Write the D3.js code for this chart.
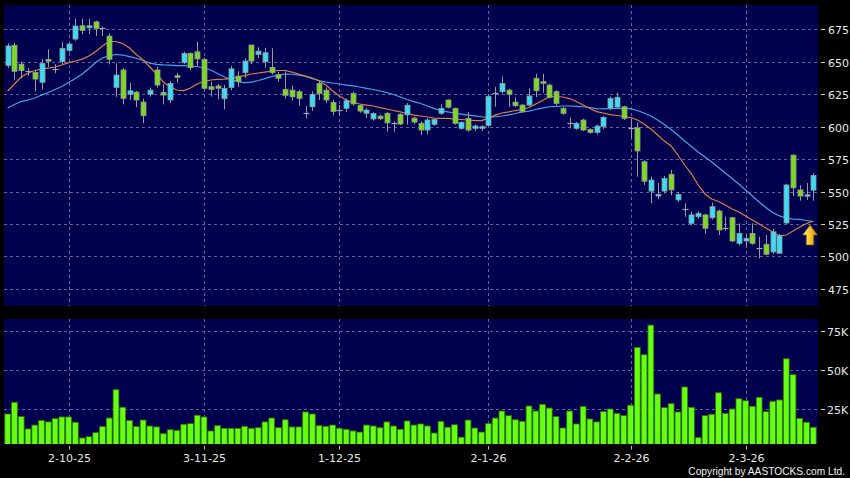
<!DOCTYPE html>
<html><head><meta charset="utf-8">
<script src="https://cdn.jsdelivr.net/npm/d3@7"></script>
<style>html,body{margin:0;padding:0;background:#000;}svg{display:block;}</style>
</head><body>
<svg id="chart" width="850" height="478"></svg>
<script>
// ---------- DATA ----------
const opens  = [647,662.5,648,642.5,641.5,634,651.7,644.5,650,658.5,667.3,677.5,676,680.5,676,669.6,630.1,643.5,624.8,626.5,618.8,624.8,643.5,626.3,620.4,639.1,649.1,656.3,657.5,651.7,630.6,631.2,621.4,630.1,638.8,641.4,662.7,655.5,649.8,645.5,639.9,628.6,628,626.8,610.2,615.2,633.2,628,618.5,612.7,614,625.5,616.2,610.2,605.8,608,610.2,603,609.4,609,606.5,602.5,597.3,601.7,610.2,620.4,614,598.6,606.3,598.6,598.6,600.9,625.5,626.8,628,618.8,616.5,616.5,637.1,634.5,631.9,626.8,614,602.5,598.6,605,597.8,595.5,600,614,615,615.2,599,599,572.9,550.3,546.5,550.3,563.2,543.5,536.3,525.5,530.6,532,529.8,535,521.7,529.8,510.1,511.9,517.8,506.3,509.4,503.5,502.5,525.8,578,551.2,546.5,551];
const highs  = [664,664.5,650,645,643,652,659.4,648,665,664.5,683,683,683,681.5,677,671.7,648.6,645,633.7,627.5,621.4,630,646,632.7,635,641.4,657.5,657,665.3,653,634.5,632.7,632,646.5,642.5,652.5,663,661,660.6,660.2,642,642.5,631.5,628.5,615.8,627,635.5,630,620.4,616.5,621.5,627,617,614,611,609,611,604,610.2,618,607.5,604,606.5,606,617,621,614.5,604,611,601.5,601,625,630.6,638.5,629,622.5,617.5,629.5,640.5,640.5,633,628,615,607,603.5,606,598.5,601.5,608,623,626,616,606.3,603,574,561.4,556.5,562,566.5,549.5,540.9,534.5,534.5,533,541.5,536,530.6,530.5,525.5,517,525.5,515.2,516.5,521.5,517.5,556,578.5,555,556.5,564];
const lows   = [645,636,637,639,627,628.5,646,641,648,657,666,671,671,669.5,669.6,647.8,622.9,617,620.4,615,602.5,623,630,617,618,633.7,648,643.5,646.8,628,623,621,613.2,628,630.5,637.5,648,652.5,645.2,640,634.5,621.5,620,616,606.3,611.9,620.4,618,608.5,608.5,611,616,610.5,606.5,604.5,605,596,596,601,601.5,602,593.5,594,600.5,609,614,601.5,597.5,596,596.5,596.5,600,615.2,625.5,615.2,615,610.5,615.5,622.5,626,621.5,616.5,609,598.5,597.5,596.5,594.5,594,598,612.5,614,605,590.9,561.4,555,541,544,548.5,547,542,530.6,524,529,517.5,528.5,516.5,520,511,508.5,507.5,509,498.6,501,502,502,525,546.5,543,543.5,543];
const closes = [662,642.5,643,642.5,636.5,648.5,650.2,644.5,660,663.5,677.3,674,677.5,675.5,676,651.7,639.6,621.7,627.5,620.4,608.3,628,631.9,624.2,633.2,637.8,656.3,645.2,652,629.4,628.6,629.4,629.4,644.4,634.5,650.4,650.4,658,656.8,641.4,637.1,624,622.9,621.7,610.2,624.8,625.5,620.4,611.6,612.7,619.8,617.4,611.9,612.7,610,606,602.8,603,601.9,616.4,603.4,597.3,605,605.5,614,614.8,602.5,603.2,597.3,600.4,599.9,623.2,625.5,633.2,624.8,616,611.4,623.5,627.5,633.2,622.5,617.8,610.2,602.5,602.5,597.3,595.5,600.4,607,621.7,622.5,606.3,599,581.2,557.9,558.8,547.8,560.1,551.2,547.8,536.3,532,533.2,521.7,538.3,520.4,521.7,511.9,517.8,513.9,510.1,506.3,501.7,519,516.2,555,552.8,546.5,547.5,562.3];
const volumes = [22,29.5,20.3,12.4,14.9,17.9,16.9,19,20.1,20.1,16.7,6.6,7.4,10,13.9,19.4,37.6,26.3,17.9,13.9,18.1,14.3,13.7,9.4,11.9,11.5,15.4,15.8,21.2,20.1,11.1,14.5,12.8,12.8,12.8,14.1,12.8,13.2,16.9,19.4,13.2,18.3,13.7,13.7,23.3,22,14.5,14.1,14.9,12.8,12.2,11.1,10.4,14.9,14.3,13.2,16.9,14.3,12.2,17.5,14.9,15.6,14.3,9.8,17.3,13.5,15.1,7.1,18.1,13,10.4,15.8,19.4,23.9,20.9,18.3,17.3,27.1,23.9,28.2,25.8,20.3,13,23.9,15.6,26.7,18.8,16.9,23.5,25.2,22.4,20.9,27.6,64.7,60,79,34.8,26,28.6,23.3,39.3,26.3,6.8,20.9,21.8,35.6,22.4,25.2,31.8,30.5,26.9,32.7,23.5,30.1,31,57.4,47.2,19.2,16.7,13.5]; // thousands
const maShort = [627.3,632.7,638.1,641.2,643.1,644.2,645,645.8,647.3,649.2,650.4,651.9,654.2,657.7,661.9,665.4,665.4,663.8,660.4,655.4,651.2,645.8,640.4,634.2,630.4,628.1,627.7,629.6,632.7,634.6,635.8,636.3,636.5,636.9,638.1,639.2,640.4,641.2,641.9,642.7,643.1,643.1,641.9,640.4,638.8,637.3,635,631.9,627.3,623.5,620.4,618.5,617.3,616.5,615.8,614.6,613.5,612.3,611.2,610,608.8,608.1,607.3,606.5,606.2,606.2,605.8,605.4,605,604.6,604.6,606.5,608.8,610.4,611.2,612.3,613.1,614.6,617.3,620,622.7,623.1,622.7,621.5,619.2,616.5,613.8,611.5,610.4,609.2,608.5,607.7,606.9,605,601.9,598.1,593.5,588.8,585,578.1,570.4,563.5,555,548.1,544.2,542.3,539.6,536.5,534.2,531.2,528.1,525,521.9,518.8,515.8,516.5,519.6,522.7,525.4,527.3];
const maLong  = [614.2,616.9,619.2,620.4,621.9,624.2,626.2,628.5,630.8,633.8,636.9,640.4,644.6,649.2,652.7,654.6,655.4,655,653.8,652.5,650.8,648.8,647.8,647.4,647.2,646.9,646.8,646.5,646.2,645,643.5,640.8,638.1,636.2,634.6,633.7,634.2,635.4,636.9,638.5,639.6,640.4,640.2,639.6,638.5,636.9,635.4,634.2,633.5,632.7,631.9,631.2,630.4,629.4,628.5,627.3,626.2,624.6,622.7,620.8,619.2,617.7,615.8,613.8,612.3,611.2,610.4,609.6,608.8,608.2,607.5,606.9,607.5,608.1,609,610,611.2,611.9,613.1,614.2,615.2,615.5,615.8,615.8,615.5,615.2,614.6,613.8,613.5,613.8,614,614,613.8,612.3,610.4,608.1,605,601.5,597.7,593.5,588.8,584.6,580.4,576.5,572.7,568.5,564.2,560,555.8,551.2,546.5,541.9,537.7,533.8,531.2,529.6,528.8,528.5,527.7,526.8];
const xTickIndex  = [9,29,49,71,92,109];
const xTickLabels = ["2-10-25","3-11-25","1-12-25","2-1-26","2-2-26","2-3-26"];
const priceTicks  = [475,500,525,550,575,600,625,650,675];
const volTicks    = [25,50,75];
const volTickLabels = ["25K","50K","75K"];

// ---------- CHART ----------
const svg = d3.select("#chart");
svg.append("rect").attr("width",850).attr("height",478).attr("fill","#000");

const L = 4, R = 818;
const pTop = 5, pBot = 306, vTop = 319, vBot = 444;
const navy = "#00004e", gridCol = "#6262a0";

const idx = d3.range(opens.length);
const x = d3.scaleBand().domain(idx).range([4.3, 816.7]).padding(0);
const cx = i => x(i) + x.bandwidth()/2;
const y = d3.scaleLinear().domain([461.9, 693.5]).range([pBot, pTop]);
const yv = d3.scaleLinear().domain([0, 82.9]).range([448.3, vTop]);

const defs = svg.append("defs");
defs.append("clipPath").attr("id","clipP").append("rect").attr("x",L).attr("y",pTop).attr("width",R-L).attr("height",pBot-pTop);
defs.append("clipPath").attr("id","clipV").append("rect").attr("x",L).attr("y",vTop).attr("width",R-L).attr("height",vBot-vTop);
const grad = defs.append("linearGradient").attr("id","arrowGrad").attr("x1","0").attr("x2","1").attr("y1","0").attr("y2","0");
grad.append("stop").attr("offset","0%").attr("stop-color","#fff2a0");
grad.append("stop").attr("offset","45%").attr("stop-color","#ffcc33");
grad.append("stop").attr("offset","100%").attr("stop-color","#c98a00");

svg.append("rect").attr("x",L).attr("y",pTop).attr("width",R-L).attr("height",pBot-pTop).attr("fill",navy);
svg.append("rect").attr("x",L).attr("y",vTop).attr("width",R-L).attr("height",vBot-vTop).attr("fill",navy);

// grids
const grid = svg.append("g").attr("stroke",gridCol).attr("stroke-width",1).attr("stroke-dasharray","3,3").attr("shape-rendering","crispEdges");
grid.selectAll(".hp").data(priceTicks).join("line")
  .attr("x1",L).attr("x2",R).attr("y1",d=>Math.round(y(d))+0.5).attr("y2",d=>Math.round(y(d))+0.5);
grid.selectAll(".hv").data(volTicks).join("line").attr("class","hv")
  .attr("x1",L).attr("x2",R).attr("y1",d=>Math.round(yv(d))+0.5).attr("y2",d=>Math.round(yv(d))+0.5);
xTickIndex.forEach(i=>{
  const xx = Math.round(cx(i))+0.5;
  grid.append("line").attr("x1",xx).attr("x2",xx).attr("y1",pTop).attr("y2",pBot);
  grid.append("line").attr("x1",xx).attr("x2",xx).attr("y1",vTop).attr("y2",vBot);
});

// volume bars
const bw = x.bandwidth();
svg.append("g").attr("clip-path","url(#clipV)").selectAll("rect").data(idx).join("rect")
  .attr("x",i=>x(i)+0.5).attr("width",bw-1)
  .attr("y",i=>yv(volumes[i])).attr("height",i=>vBot+2-yv(volumes[i]))
  .attr("fill","#66ff11").attr("stroke","#2f7a00").attr("stroke-width",0.8);

// moving averages
const line = arr => d3.line().x((d,i)=>cx(i)).y(d=>y(d)).curve(d3.curveLinear)(arr);
const gp = svg.append("g").attr("clip-path","url(#clipP)");
gp.append("path").attr("d",line(maLong)).attr("fill","none").attr("stroke","#3fa6e6").attr("stroke-width",1.2);
gp.append("path").attr("d",line(maShort)).attr("fill","none").attr("stroke","#e07d45").attr("stroke-width",1.2);

// candles
const cw = 5;
const cg = gp.append("g");
idx.forEach(i=>{
  const o=opens[i], c=closes[i], h=highs[i], l=lows[i];
  const xc = Math.round(cx(i))+0.5;
  cg.append("line").attr("x1",xc).attr("x2",xc).attr("y1",y(h)).attr("y2",y(l)).attr("stroke","#9c9c9c").attr("stroke-width",1);
  if (o === c) {
    cg.append("line").attr("x1",xc-cw/2-0.5).attr("x2",xc+cw/2+0.5).attr("y1",Math.round(y(o))+0.5).attr("y2",Math.round(y(o))+0.5).attr("stroke","#a8a8a8").attr("stroke-width",1.2);
  } else {
    const up = c > o;
    const top = y(Math.max(o,c)), bot = y(Math.min(o,c));
    cg.append("rect").attr("x",xc-cw/2).attr("width",cw).attr("y",top).attr("height",Math.max(1.5,bot-top))
      .attr("fill", up ? "#3ddcf5" : "#7ed81f").attr("stroke","#8f9a9a").attr("stroke-width",0.8);
  }
});

// yellow arrow at the last MA point
const ax = cx(opens.length-1) - 3.3, ay = y(maShort[maShort.length-1]) + 4;
svg.append("path")
  .attr("d",`M${ax},${ay} L${ax+7.5},${ay+10} L${ax+3.8},${ay+10} L${ax+3.8},${ay+20} L${ax-3.8},${ay+20} L${ax-3.8},${ay+10} L${ax-7.5},${ay+10} Z`)
  .attr("fill","url(#arrowGrad)").attr("stroke","#7a5200").attr("stroke-width",0.7);

// right axis labels
const font = "DejaVu Sans, Verdana, sans-serif";
const ax1 = svg.append("g").attr("font-family",font).attr("font-size",11).attr("fill","#e6e6e6");
priceTicks.forEach(p=>{
  const yy = Math.round(y(p))+0.5;
  ax1.append("line").attr("x1",821).attr("x2",825).attr("y1",yy).attr("y2",yy).attr("stroke","#cfcfcf");
  ax1.append("text").attr("x",828).attr("y",yy+4).text(p);
});
volTicks.forEach((v,k)=>{
  const yy = Math.round(yv(v))+0.5;
  ax1.append("line").attr("x1",821).attr("x2",825).attr("y1",yy).attr("y2",yy).attr("stroke","#cfcfcf");
  ax1.append("text").attr("x",827).attr("y",yy+4).text(volTickLabels[k]);
});

// x axis labels
xTickIndex.forEach((i,k)=>{
  const xx = Math.round(cx(i))+0.5;
  ax1.append("line").attr("x1",xx).attr("x2",xx).attr("y1",446).attr("y2",449.5).attr("stroke","#bdbdbd");
  ax1.append("text").attr("x",xx).attr("y",461.5).attr("text-anchor","middle").text(xTickLabels[k]);
});

// copyright
svg.append("text").attr("x",845).attr("y",474.5).attr("text-anchor","end")
  .attr("font-family","Liberation Sans, Arial, sans-serif").attr("font-size",10.2).attr("fill","#f0f0f0")
  .text("Copyright by AASTOCKS.com Ltd.");
</script>
</body></html>
